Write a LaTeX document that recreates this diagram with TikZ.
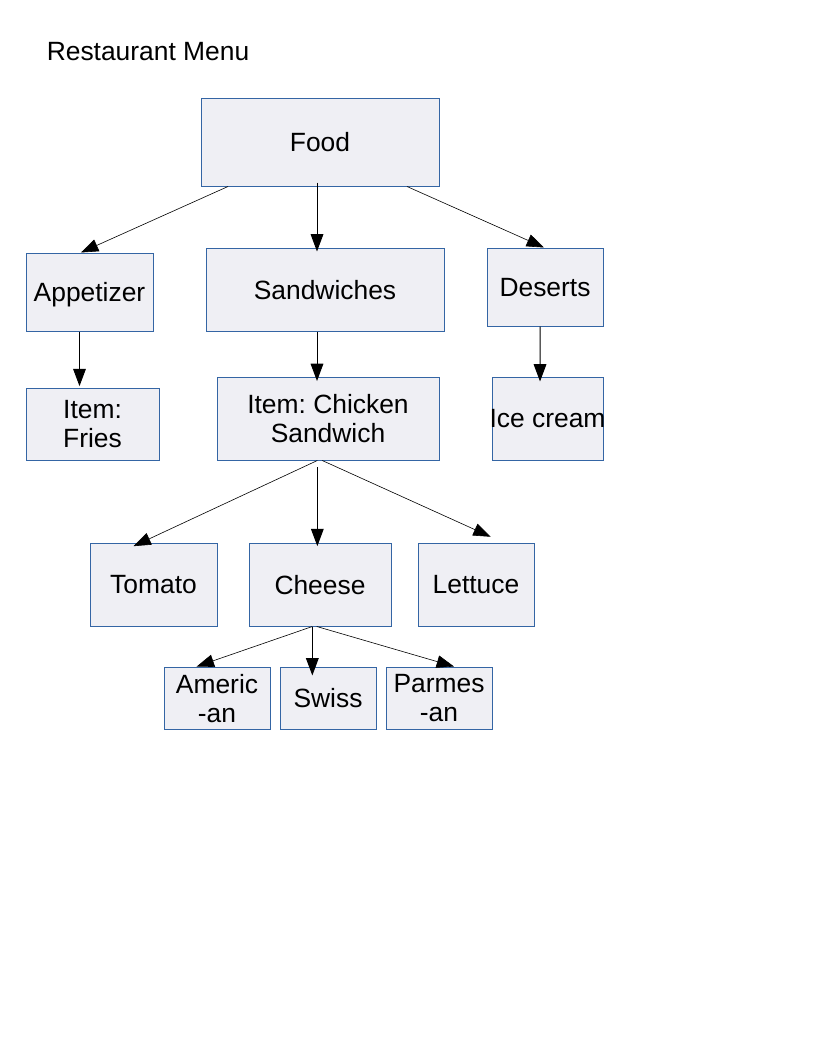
\documentclass[tikz,border=0pt]{standalone}
\usepackage{fontspec}
\setmainfont{Liberation Sans}
\usepackage{xcolor}
\usetikzlibrary{arrows.meta}
\definecolor{boxblue}{RGB}{52,101,164}
\definecolor{boxfill}{RGB}{239,239,244}
\frenchspacing

\begin{document}
\begin{tikzpicture}[x=0.75pt,y=-0.75pt,
    menu/.style={draw=boxblue,fill=boxfill,line width=0.75pt,inner sep=0pt,align=center,
      text depth=0pt,font=\fontsize{19.8}{21.75}\selectfont},
    link/.style={-{Triangle[length=13pt,width=9.5pt]},line width=0.75pt},
    slant/.style={link,line width=0.45pt}]
		\useasboundingbox (0,0) rectangle (816,1056);
		\node[anchor=base west,inner sep=0pt,font=\fontsize{19.8}{21.75}\selectfont] (title) at (46.5,60.7) {Restaurant Menu};
		\node[menu,minimum width=178.5pt,minimum height=66pt] (F) at (320,142) {Food};
		\node[menu,minimum width=95.25pt,minimum height=58.5pt] (A) at (89.5,292) {Appetizer};
		\node[menu,minimum width=178.5pt,minimum height=62.25pt] (S) at (325,289.5) {Sandwiches};
		\node[menu,minimum width=87pt,minimum height=58.5pt] (D) at (545,287) {Deserts};
		\node[menu,minimum width=99.75pt,minimum height=54pt] (AF) at (92.5,424) {Item:\\Fries};
		\node[menu,minimum width=166.5pt,minimum height=62.25pt] (SC) at (328,418.5) {Item: Chicken\\Sandwich};
		\node[menu,minimum width=83.25pt,minimum height=62.25pt] (DI) at (547.5,418.5) {\makebox[0pt]{Ice cream}};
		\node[menu,minimum width=95.25pt,minimum height=62.25pt] (T) at (153.5,584.5) {Tomato};
		\node[menu,minimum width=106.5pt,minimum height=62.25pt] (C) at (320,584.5) {Cheese};
		\node[menu,minimum width=87pt,minimum height=62.25pt] (L) at (476,584.5) {Lettuce};
		\node[menu,minimum width=79.5pt,minimum height=46.5pt] (CA) at (217,698) {Americ\\-an};
		\node[menu,minimum width=72pt,minimum height=46.5pt] (CS) at (328,698) {Swiss};
		\node[menu,minimum width=79.5pt,minimum height=46.5pt] (CP) at (439,698) {Parmes\\-an};
        \draw [slant] ([xshift=-69pt]F.south) -- ([xshift=-6.4pt]A.north);
		\draw [link] ([xshift=-2.25pt,yshift=3pt]F.south) -- ([xshift=-6pt,yshift=-3pt]S.north);
		\draw [slant] ([xshift=65.25pt]F.south) -- ([xshift=-0.75pt]D.north);
		\draw [link] ([xshift=-7.5pt]A.south) -- ([xshift=-9.75pt,yshift=1pt]AF.north);
		\draw [link] ([xshift=-6pt]S.south) -- ([xshift=-8.25pt,yshift=-3.4pt]SC.north);
		\draw [link] ([xshift=-3.75pt]D.south) -- ([xshift=-5.6pt,yshift=-3.75pt]DI.north);
		\draw [slant] ([xshift=-8pt]SC.south) -- ([xshift=-15pt,yshift=-2.75pt]T.north);
		\draw [link] ([xshift=-8pt,yshift=-5pt]SC.south) -- ([xshift=-2pt,yshift=-2.75pt]C.north);
		\draw [slant] ([xshift=-4.3pt]SC.south) -- ([xshift=11pt,yshift=4.3pt]L.north);
		\draw [slant] ([xshift=-5.75pt]C.south) -- ([xshift=-15.25pt]CA.north);
		\draw [link] ([xshift=-5.75pt]C.south) -- ([xshift=-11.75pt,yshift=-6.75pt]CS.north);
		\draw [slant] ([xshift=-2.4pt]C.south) -- ([xshift=11.25pt]CP.north);
    \end{tikzpicture}
\end{document}
